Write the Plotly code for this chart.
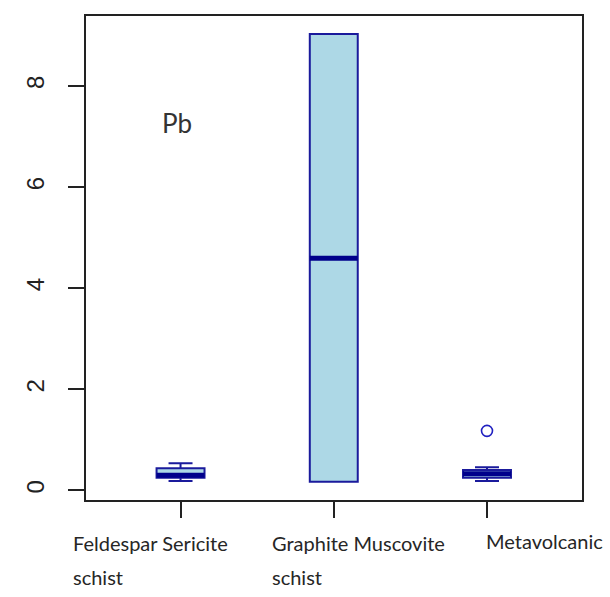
import plotly.graph_objects as go

# Pb concentration by rock unit (box-plot summary statistics)
groups = [["Feldespar Sericite", "schist"], ["Graphite Muscovite", "schist"], ["Metavolcanic"]]
positions = [1, 2, 3]
lower_whisker = [0.19, 0.174, 0.19]
q1 = [0.25, 0.174, 0.25]
median = [0.30, 4.595, 0.33]
q3 = [0.44, 9.03, 0.405]
upper_whisker = [0.54, 9.03, 0.46]
outlier_pos = [3]
outlier_val = [1.18]
element = "Pb"

box_w = 0.313
fill = "#ADD8E6"
edge = "#1a1a9c"
dark = "#00008B"

fig = go.Figure()
for p, lw, a, m, b, uw in zip(positions, lower_whisker, q1, median, q3, upper_whisker):
    fig.add_trace(go.Box(
        x=[p], q1=[a], median=[m], q3=[b], lowerfence=[lw], upperfence=[uw],
        width=box_w, whiskerwidth=0.5, fillcolor=fill,
        line=dict(color=edge, width=2), boxpoints=False, showlegend=False,
        hoverinfo="skip",
    ))
    # thick median bar
    fig.add_trace(go.Scatter(
        x=[p - box_w / 2, p + box_w / 2], y=[m, m], mode="lines",
        line=dict(color=dark, width=5), showlegend=False, hoverinfo="skip",
    ))

fig.add_trace(go.Scatter(
    x=outlier_pos, y=outlier_val, mode="markers",
    marker=dict(symbol="circle-open", size=11, color="#2020c0", line=dict(width=1.6)),
    showlegend=False, hoverinfo="skip",
))

# category labels, left-aligned under each box (paper coordinates), one line per annotation
label_x = [-0.031, 0.371, 0.803]
first_shift = [-29, -29, -27]
line_step = 34
for lx, lines, ys in zip(label_x, groups, first_shift):
    for i, txt in enumerate(lines):
        fig.add_annotation(
            x=lx, xref="paper", y=0, yref="paper", yanchor="top", xanchor="left",
            align="left", text=txt, showarrow=False, yshift=ys - i * line_step,
            font=dict(family="Lato", size=20, color="#262626"),
        )

fig.add_annotation(
    x=0.977, y=7.27, xref="x", yref="y", text=element, showarrow=False,
    font=dict(family="Lato", size=26, color="#333333"),
)

fig.update_layout(
    width=610, height=597,
    margin=dict(l=86, r=28, t=16, b=97),
    paper_bgcolor="white", plot_bgcolor="white",
    xaxis=dict(
        range=[0.383, 3.62], tickvals=positions, showticklabels=False,
        ticks="outside", ticklen=16, tickwidth=2, tickcolor="#222222",
        showline=True, linecolor="#222222", linewidth=2, mirror=True,
        showgrid=False, zeroline=False,
    ),
    yaxis=dict(
        range=[-0.188, 9.385], tickvals=[0, 2, 4, 6, 8],
        ticks="outside", ticklen=16, tickwidth=2, tickcolor="#222222",
        tickangle=-90, ticklabelstandoff=14,
        tickfont=dict(family="Liberation Sans", size=24, color="#222222"),
        showline=True, linecolor="#222222", linewidth=2, mirror=True,
        showgrid=False, zeroline=False,
    ),
)

fig.write_html("out.html")
